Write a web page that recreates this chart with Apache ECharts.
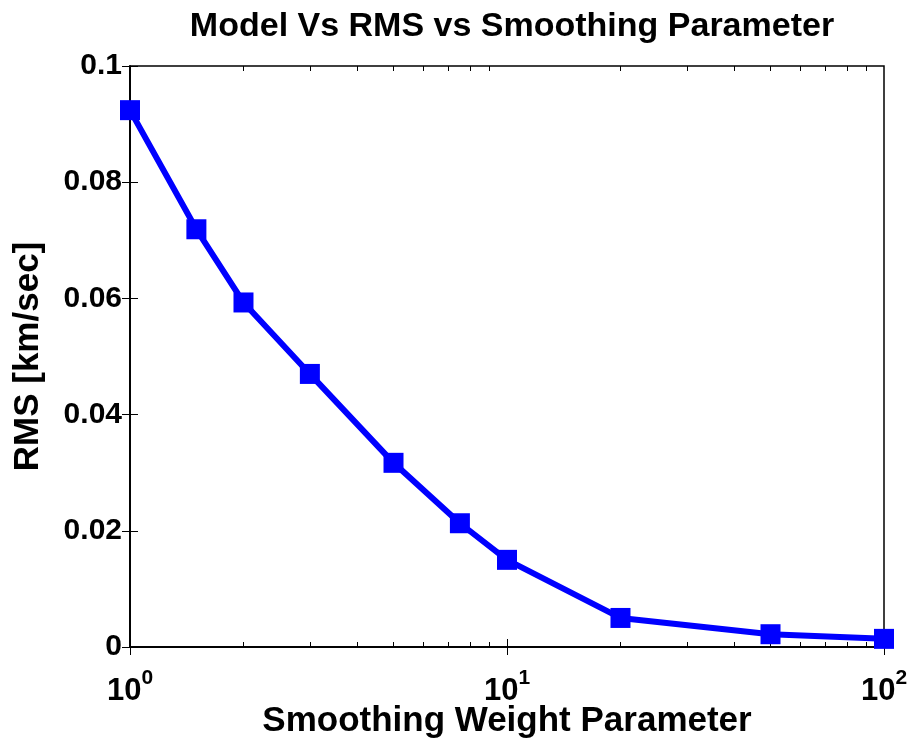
<!DOCTYPE html>
<html>
<head>
<meta charset="utf-8">
<script src="https://cdn.jsdelivr.net/npm/echarts@6/dist/echarts.min.js"></script>
<style>
  html, body { margin: 0; padding: 0; background: #fff; }
  #chart { width: 914px; height: 745px; }
</style>
</head>
<body>
<div id="chart"></div>
<script>
// Smoothing weight parameter (log scale) and resulting RMS misfit
const smoothWeights = [1, 1.5, 2, 3, 5, 7.5, 10, 20, 50, 100];
const rmsValues = [0.0924, 0.0719, 0.0593, 0.0470, 0.0317, 0.0213, 0.0150, 0.0050, 0.0022, 0.0014];

// Axis ticks
const xMinorTicks = [2, 3, 4, 5, 6, 7, 8, 9, 20, 30, 40, 50, 60, 70, 80, 90];
const yTicks = [0, 0.02, 0.04, 0.06, 0.08, 0.1];

const titleText = 'Model Vs RMS vs Smoothing Parameter';
const xName = 'Smoothing Weight Parameter';
const yName = 'RMS [km/sec]';

const FONT = '"Liberation Sans", Arial, Helvetica, sans-serif';
const chart = echarts.init(document.getElementById('chart'), null, { renderer: 'canvas' });

const gridBox = { left: 130, top: 66, right: 30, bottom: 98 };

// Minor decade ticks: a helper axis running over log10 of the weight range
function minorXAxis(pos) {
  return {
    type: 'value', min: 0, max: 2, position: pos,
    axisLine: { show: false },
    splitLine: { show: false },
    axisLabel: { show: false },
    axisTick: {
      show: true, inside: true, length: 5,
      customValues: xMinorTicks.map(v => Math.log10(v)),
      lineStyle: { color: '#000', width: 1 }
    }
  };
}

chart.setOption({
  backgroundColor: '#fff',
  animation: false,
  title: {
    text: titleText,
    left: 507, top: 5, textAlign: 'center',
    textStyle: { fontFamily: FONT, fontWeight: 'bold', fontSize: 34, color: '#000' }
  },
  grid: Object.assign({
    show: true, borderColor: '#000', borderWidth: 1.5, backgroundColor: '#fff',
    containLabel: false, outerBoundsMode: 'none'
  }, gridBox),
  xAxis: [
    {
      type: 'log', logBase: 10, min: 1, max: 100, position: 'bottom',
      name: xName, nameLocation: 'middle', nameGap: 57, nameMoveOverlap: false,
      nameTextStyle: { fontFamily: FONT, fontWeight: 'bold', fontSize: 35, color: '#000' },
      axisLine: { show: true, lineStyle: { color: '#000', width: 1.5 } },
      splitLine: { show: false },
      axisTick: { show: true, inside: true, length: 8, lineStyle: { color: '#000', width: 1 } },
      axisLabel: {
        margin: 21,
        formatter: v => '{b|10}{s|' + Math.round(Math.log10(v)) + '}',
        rich: {
          b: { fontFamily: FONT, fontWeight: 'bold', fontSize: 31, color: '#000' },
          s: { fontFamily: FONT, fontWeight: 'bold', fontSize: 21, color: '#000', verticalAlign: 'top', padding: [0, 0, 26, 0] }
        }
      }
    },
    {
      type: 'log', logBase: 10, min: 1, max: 100, position: 'top',
      axisLine: { show: true, lineStyle: { color: '#000', width: 1.5 } },
      splitLine: { show: false },
      axisLabel: { show: false },
      axisTick: { show: true, inside: true, length: 8, lineStyle: { color: '#000', width: 1 } }
    },
    minorXAxis('bottom'),
    minorXAxis('top')
  ],
  yAxis: [
    {
      type: 'value', min: 0, max: 0.1, interval: 0.02, position: 'left',
      name: yName, nameLocation: 'middle', nameGap: 84, nameRotate: 90, nameMoveOverlap: false,
      nameTextStyle: { fontFamily: FONT, fontWeight: 'bold', fontSize: 35, color: '#000' },
      axisLine: { show: true, lineStyle: { color: '#000', width: 1.5 } },
      splitLine: { show: false },
      axisTick: { show: true, inside: true, length: 8, customValues: yTicks, lineStyle: { color: '#000', width: 1 } },
      axisLabel: {
        customValues: yTicks,
        margin: 8,
        fontFamily: FONT, fontWeight: 'bold', fontSize: 30, color: '#000',
        formatter: v => String(+v.toFixed(2))
      }
    },
    {
      type: 'value', min: 0, max: 0.1, interval: 0.02, position: 'right',
      axisLine: { show: true, lineStyle: { color: '#000', width: 1.5 } },
      splitLine: { show: false },
      axisLabel: { show: false },
      axisTick: { show: true, inside: true, length: 8, lineStyle: { color: '#000', width: 1 } }
    }
  ],
  series: [
    {
      type: 'line',
      xAxisIndex: 0, yAxisIndex: 0,
      data: smoothWeights.map((w, i) => [w, rmsValues[i]]),
      lineStyle: { color: '#0000ff', width: 6 },
      itemStyle: { color: '#0000ff' },
      symbol: 'rect', symbolSize: 20, showSymbol: true,
      clip: false
    }
  ]
});
</script>
</body>
</html>
